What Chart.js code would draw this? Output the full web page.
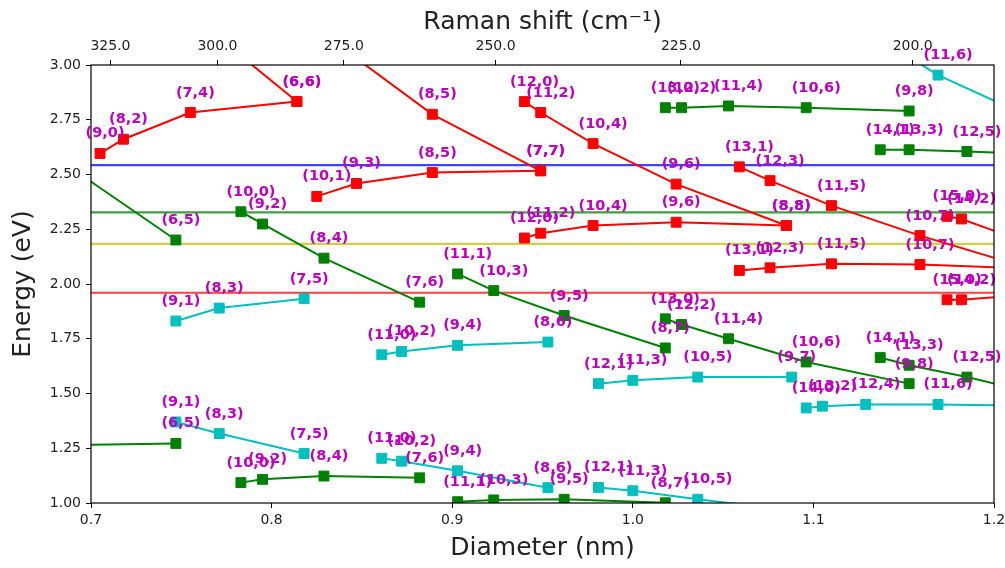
<!DOCTYPE html>
<html>
<head>
<meta charset="utf-8">
<script src="https://cdn.jsdelivr.net/npm/chart.js@4/dist/chart.umd.min.js"></script>
<style>
  html, body { margin: 0; padding: 0; background: #fff; }
  canvas { display: block; }
</style>
</head>
<body>
<canvas id="kataura" width="1005" height="568"></canvas>
<script>
// tube diameters (nm), one per chirality
const tubeNames = ['(7,3)','(9,0)','(8,2)','(6,5)','(9,1)','(7,4)','(8,3)','(10,0)','(9,2)','(6,6)',
  '(7,5)','(10,1)','(8,4)','(9,3)','(11,0)','(10,2)','(7,6)','(8,5)','(11,1)','(9,4)',
  '(10,3)','(12,0)','(7,7)','(11,2)','(8,6)','(9,5)','(10,4)','(12,1)','(11,3)','(13,0)',
  '(8,7)','(9,6)','(12,2)','(10,5)','(11,4)','(13,1)','(12,3)','(8,8)','(9,7)','(10,6)',
  '(14,0)','(13,2)','(11,5)','(12,4)','(14,1)','(13,3)','(9,8)','(10,7)','(11,6)','(15,0)',
  '(14,2)','(12,5)','(13,4)','(9,9)','(10,8)','(11,7)'];
const tubeDiam = [0.696,0.705,0.718,0.747,0.747,0.755,0.771,0.783,0.795,0.814,
  0.818,0.825,0.829,0.847,0.861,0.872,0.882,0.889,0.903,0.903,
  0.923,0.940,0.949,0.949,0.953,0.962,0.978,0.981,1.000,1.018,
  1.018,1.024,1.027,1.036,1.053,1.059,1.076,1.085,1.088,1.096,
  1.096,1.105,1.110,1.129,1.137,1.153,1.153,1.159,1.169,1.174,
  1.182,1.185,1.205,1.220,1.223,1.231];

// metallic branches (red)
const m18Lo = ['(9,0)','(8,2)','(7,4)','(6,6)'];
const m18LoE = [2.596, 2.661, 2.783, 2.833];
const m18Hi = ['(7,4)','(6,6)'];
const m18HiE = [3.23, 2.833];
const m21Lo = ['(10,1)','(9,3)','(8,5)','(7,7)'];
const m21LoE = [2.400, 2.459, 2.509, 2.517];
const m21Hi = ['(10,1)','(9,3)','(8,5)','(7,7)'];
const m21HiE = [3.19, 3.03, 2.775, 2.517];
const m24Lo = ['(12,0)','(11,2)','(10,4)','(9,6)','(8,8)'];
const m24LoE = [2.210, 2.232, 2.267, 2.282, 2.267];
const m24Hi = ['(12,0)','(11,2)','(10,4)','(9,6)','(8,8)'];
const m24HiE = [2.833, 2.783, 2.641, 2.456, 2.267];
const m27Lo = ['(13,1)','(12,3)','(11,5)','(10,7)','(9,9)'];
const m27LoE = [2.062, 2.074, 2.092, 2.089, 2.07];
const m27Hi = ['(13,1)','(12,3)','(11,5)','(10,7)','(9,9)'];
const m27HiE = [2.535, 2.472, 2.358, 2.221, 2.07];
const m30Lo = ['(15,0)','(14,2)','(13,4)'];
const m30LoE = [1.928, 1.928, 1.943];
const m30Hi = ['(15,0)','(14,2)','(13,4)'];
const m30HiE = [2.309, 2.297, 2.228];

// semiconducting, green families
const s17 = ['(7,3)','(6,5)'];
const s17E22 = [2.49, 2.201];
const s17E11 = [1.266, 1.272];
const s20 = ['(10,0)','(9,2)','(8,4)','(7,6)'];
const s20E22 = [2.330, 2.274, 2.118, 1.917];
const s20E11 = [1.093, 1.108, 1.123, 1.115];
const s23 = ['(11,1)','(10,3)','(9,5)','(8,7)'];
const s23E22 = [2.046, 1.970, 1.856, 1.708];
const s23E11 = [1.006, 1.014, 1.017, 1.001];
const s26 = ['(13,0)','(12,2)','(11,4)','(10,6)','(9,8)'];
const s26E22 = [1.841, 1.815, 1.750, 1.644, 1.545];
const s26E33 = [2.805, 2.805, 2.813, 2.805, 2.790];
const s29 = ['(14,1)','(13,3)','(12,5)','(11,7)'];
const s29E22 = [1.664, 1.629, 1.575, 1.484];
const s29E33 = [2.613, 2.613, 2.605, 2.59];

// semiconducting, cyan families
const s19 = ['(9,1)','(8,3)','(7,5)'];
const s19E22 = [1.831, 1.890, 1.933];
const s19E11 = [1.370, 1.317, 1.226];
const s22 = ['(11,0)','(10,2)','(9,4)','(8,6)'];
const s22E22 = [1.677, 1.692, 1.720, 1.735];
const s22E11 = [1.204, 1.191, 1.147, 1.070];
const s25 = ['(12,1)','(11,3)','(10,5)','(9,7)'];
const s25E22 = [1.545, 1.560, 1.575, 1.575];
const s25E11 = [1.071, 1.056, 1.017, 0.965];
const s28 = ['(14,0)','(13,2)','(12,4)','(11,6)','(10,8)'];
const s28E22 = [1.434, 1.442, 1.450, 1.450, 1.444];
const s28Top = ['(12,4)','(11,6)','(10,8)'];
const s28TopE = [3.16, 2.954, 2.750];

// laser lines (eV)
const laserE = [2.543, 2.327, 2.183, 1.960];
const laserColors = ['rgba(0,0,255,0.75)', 'rgba(0,128,0,0.75)', 'rgba(191,191,0,0.75)', 'rgba(255,0,0,0.75)'];

// axes
const diamTicks = [0.7, 0.8, 0.9, 1.0, 1.1, 1.2];
const diamTickLabels = ['0.7', '0.8', '0.9', '1.0', '1.1', '1.2'];
const energyTicks = [1.0, 1.25, 1.5, 1.75, 2.0, 2.25, 2.5, 2.75, 3.0];
const ramanShifts = [325, 300, 275, 250, 225, 200];
const RBM_CONST = 231; // d = 231 / shift

const RED = '#ff0000', GREEN = '#008000', CYAN = '#00bfbf';
const FONT = 'DejaVu Sans';

function series(names, energies, color) {
  return {
    data: names.map((n, i) => ({ x: tubeDiam[tubeNames.indexOf(n)], y: energies[i] })),
    chir: names,
    borderColor: color,
    backgroundColor: color,
    pointBackgroundColor: color,
    pointBorderColor: color,
    borderWidth: 2,
    pointStyle: 'rect',
    pointRadius: 7,
    pointBorderWidth: 1,
    tension: 0,
    clip: 0,
    order: 0
  };
}

const datasets = [];
laserE.forEach((e, i) => {
  datasets.push({
    data: [{ x: diamTicks[0], y: e }, { x: diamTicks[diamTicks.length - 1], y: e }],
    borderColor: laserColors[i],
    borderWidth: 2.2,
    pointRadius: 0,
    clip: 0,
    order: 5
  });
});

datasets.push(
  series(m18Lo, m18LoE, RED), series(m18Hi, m18HiE, RED),
  series(m21Lo, m21LoE, RED), series(m21Hi, m21HiE, RED),
  series(m24Lo, m24LoE, RED), series(m24Hi, m24HiE, RED),
  series(m27Lo, m27LoE, RED), series(m27Hi, m27HiE, RED),
  series(m30Lo, m30LoE, RED), series(m30Hi, m30HiE, RED),
  series(s17, s17E22, GREEN), series(s17, s17E11, GREEN),
  series(s20, s20E22, GREEN), series(s20, s20E11, GREEN),
  series(s23, s23E22, GREEN), series(s23, s23E11, GREEN),
  series(s26, s26E22, GREEN), series(s26, s26E33, GREEN),
  series(s29, s29E22, GREEN), series(s29, s29E33, GREEN),
  series(s19, s19E22, CYAN), series(s19, s19E11, CYAN),
  series(s22, s22E22, CYAN), series(s22, s22E11, CYAN),
  series(s25, s25E22, CYAN), series(s25, s25E11, CYAN),
  series(s28, s28E22, CYAN), series(s28Top, s28TopE, CYAN)
);

// chirality labels, only for points inside the axes (like matplotlib annotate)
const chiralityLabels = {
  id: 'chiralityLabels',
  afterDatasetsDraw(chart) {
    const { ctx, scales: { x, y } } = chart;
    ctx.save();
    ctx.font = 'bold 14.5px "' + FONT + '"';
    ctx.fillStyle = '#bf00bf';
    ctx.textAlign = 'left';
    ctx.textBaseline = 'alphabetic';
    chart.data.datasets.forEach(ds => {
      if (!ds.chir) return;
      ds.data.forEach((p, i) => {
        if (p.x < x.min || p.x > x.max || p.y < y.min || p.y > y.max) return;
        ctx.fillText(ds.chir[i], x.getPixelForValue(p.x - 0.008), y.getPixelForValue(p.y + 0.073));
      });
    });
    ctx.restore();
  }
};

const frame = {
  id: 'frame',
  afterDatasetsDraw(chart) {
    const a = chart.chartArea, ctx = chart.ctx;
    ctx.save();
    ctx.strokeStyle = '#000';
    ctx.lineWidth = 1.2;
    ctx.strokeRect(a.left, a.top, a.right - a.left, a.bottom - a.top);
    ctx.restore();
  }
};

const tickFont = { family: FONT, size: 14 };
const titleFont = { family: FONT, size: 25 };
const tickGrid = { drawOnChartArea: false, drawTicks: true, tickLength: 5, color: '#000', tickColor: '#000' };

// pin the plot box to the reference: 91..994 x 65..503
const fitX = s => { s.height = 65; s.paddingLeft = 0; s.paddingRight = 0; };

new Chart(document.getElementById('kataura'), {
  type: 'line',
  data: { datasets },
  options: {
    responsive: false,
    animation: false,
    devicePixelRatio: 1,
    layout: { padding: { right: 11 } },
    plugins: { legend: { display: false }, tooltip: { enabled: false } },
    scales: {
      x: {
        type: 'linear', position: 'bottom',
        min: diamTicks[0], max: diamTicks[diamTicks.length - 1],
        afterBuildTicks: s => { s.ticks = diamTicks.map(v => ({ value: v })); },
        afterFit: fitX,
        grid: tickGrid,
        border: { display: false },
        ticks: { font: tickFont, color: '#222', padding: 4, maxRotation: 0, autoSkip: false,
                 callback: (v, i) => diamTickLabels[i] },
        title: { display: true, text: 'Diameter (nm)', font: titleFont, color: '#222', padding: { top: 0, bottom: 5 } }
      },
      x2: {
        type: 'linear', position: 'top',
        min: diamTicks[0], max: diamTicks[diamTicks.length - 1],
        afterBuildTicks: s => { s.ticks = ramanShifts.map(w => ({ value: RBM_CONST / w })); },
        afterFit: fitX,
        grid: tickGrid,
        border: { display: false },
        ticks: { font: tickFont, color: '#222', padding: 5, maxRotation: 0, autoSkip: false,
                 callback: (v, i) => ramanShifts[i].toFixed(1) },
        title: { display: true, text: 'Raman shift (cm\u207B\u00B9)', font: titleFont, color: '#222', padding: { top: 7, bottom: 0 } }
      },
      y: {
        type: 'linear', position: 'left',
        min: energyTicks[0], max: energyTicks[energyTicks.length - 1],
        afterBuildTicks: s => { s.ticks = energyTicks.map(v => ({ value: v })); },
        afterFit: s => { s.width = 91; s.paddingTop = 0; s.paddingBottom = 0; },
        grid: tickGrid,
        border: { display: false },
        ticks: { font: tickFont, color: '#222', padding: 5, autoSkip: false,
                 callback: v => v.toFixed(2) },
        title: { display: true, text: 'Energy (eV)', font: titleFont, color: '#222', padding: { top: 8, bottom: 0 } }
      }
    }
  },
  plugins: [chiralityLabels, frame]
});
</script>
</body>
</html>
